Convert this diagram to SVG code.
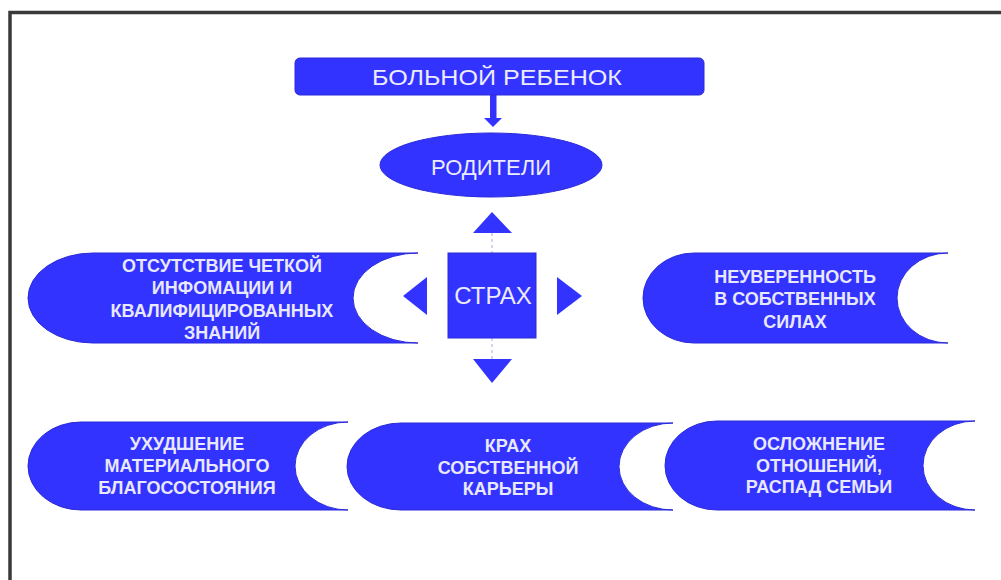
<svg xmlns="http://www.w3.org/2000/svg" width="1001" height="580" viewBox="0 0 1001 580">
<style>
.shape{fill:#3333ff;stroke:#2a2ad8;stroke-width:1}
.lbl{font-family:"Liberation Sans",Arial,sans-serif;font-weight:bold;font-size:18px;fill:#e8e8ff;text-anchor:middle}
.big{font-family:"Liberation Sans",Arial,sans-serif;font-size:22px;fill:#ececff;text-anchor:middle}
.tri{fill:#3333ff}
.dot{stroke:#c8c8f0;stroke-width:1.5;stroke-dasharray:3 3;fill:none}
</style>
<rect x="0" y="0" width="1001" height="580" fill="#ffffff"/>
<path d="M10,580 L10,12.5 L1001,12.5" fill="none" stroke="#3a3a3a" stroke-width="3.5"/>

<g id="connectors">
<rect x="490" y="95" width="6.5" height="24" fill="#3333ff"/>
<polygon points="484,118 502,118 493,127" class="tri"/>
<line x1="492" y1="233" x2="492" y2="253" class="dot"/>
<line x1="492" y1="338" x2="492" y2="359" class="dot"/>
<polygon points="492,212 512,233 473,233" class="tri"/>
<polygon points="492,383 512,359 473,359" class="tri"/>
<polygon points="403,296 427,277 427,315" class="tri"/>
<polygon points="582,296 557,277 557,315" class="tri"/>
</g>

<g id="node-child">
<rect x="295" y="58" width="409" height="37" rx="5" class="shape"/>
<text x="497" y="85" class="big" textLength="250" lengthAdjust="spacingAndGlyphs">БОЛЬНОЙ РЕБЕНОК</text>
</g>

<g id="node-parents">
<ellipse cx="491" cy="165" rx="111" ry="32" class="shape"/>
<text x="491" y="175" class="big">РОДИТЕЛИ</text>
</g>

<g id="node-fear">
<rect x="448" y="253" width="88" height="85" class="shape"/>
<text x="493" y="304" class="big" style="font-size:24px">СТРАХ</text>
</g>

<g id="node-info">
<path d="M93,253 L418,253 A65,45 0 0 0 418,343 L93,343 A65,45 0 0 1 93,253 Z" class="shape"/>
<text class="lbl"><tspan x="222" y="272">ОТСУТСТВИЕ ЧЕТКОЙ</tspan><tspan x="222" y="294">ИНФОМАЦИИ И</tspan><tspan x="222" y="317">КВАЛИФИЦИРОВАННЫХ</tspan><tspan x="222" y="339">ЗНАНИЙ</tspan></text>
</g>

<g id="node-confidence">
<path d="M694,253 L948,253 A51,45 0 0 0 948,343 L694,343 A51,45 0 0 1 694,253 Z" class="shape"/>
<text class="lbl"><tspan x="795" y="283">НЕУВЕРЕННОСТЬ</tspan><tspan x="795" y="305">В СОБСТВЕННЫХ</tspan><tspan x="795" y="328">СИЛАХ</tspan></text>
</g>

<g id="node-material">
<path d="M81,422 L348,422 A53,44 0 0 0 348,510 L81,510 A53,44 0 0 1 81,422 Z" class="shape"/>
<text class="lbl"><tspan x="187" y="450">УХУДШЕНИЕ</tspan><tspan x="187" y="472">МАТЕРИАЛЬНОГО</tspan><tspan x="187" y="494">БЛАГОСОСТОЯНИЯ</tspan></text>
</g>

<g id="node-career">
<path d="M401,423 L673,423 A54,43.5 0 0 0 673,510 L401,510 A54,43.5 0 0 1 401,423 Z" class="shape"/>
<text class="lbl"><tspan x="508" y="452">КРАХ</tspan><tspan x="508" y="474">СОБСТВЕННОЙ</tspan><tspan x="508" y="495">КАРЬЕРЫ</tspan></text>
</g>

<g id="node-family">
<path d="M717,421 L975,421 A52,44.5 0 0 0 975,510 L717,510 A52,44.5 0 0 1 717,421 Z" class="shape"/>
<text class="lbl"><tspan x="819" y="450">ОСЛОЖНЕНИЕ</tspan><tspan x="819" y="472">ОТНОШЕНИЙ,</tspan><tspan x="819" y="493">РАСПАД СЕМЬИ</tspan></text>
</g>
</svg>
